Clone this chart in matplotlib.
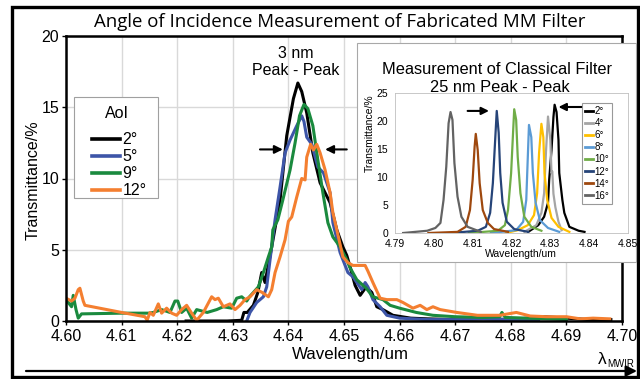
import matplotlib
matplotlib.use("Agg")
import matplotlib.pyplot as plt
from matplotlib.patches import Rectangle, FancyArrowPatch

plt.rcParams['font.family'] = ['Liberation Sans', 'DejaVu Sans']

# ---------------- main chart data ----------------
aoi_labels = ['2°', '5°', '9°', '12°']
aoi_colors = ['#000000', '#3d55a8', '#1a8a3e', '#f47f30']

wl_2 = [4.6216, 4.6250, 4.6290, 4.6316, 4.6320, 4.6326, 4.6337, 4.6345, 4.6352, 4.6358,
        4.6370, 4.6385, 4.6397, 4.6409, 4.6417, 4.6424, 4.6433, 4.6444, 4.6457, 4.6475,
        4.6487, 4.6498, 4.6505, 4.6511, 4.6520, 4.6529, 4.6540, 4.6550, 4.6559, 4.6570,
        4.6588, 4.6620, 4.6650, 4.6700, 4.6750, 4.6800, 4.6830, 4.6860, 4.6900, 4.6940, 4.6980]
tr_2 = [0.0, 0.0, 0.0, 0.05, 0.6, 0.6, 1.1, 2.0, 3.4, 2.7,
        5.2, 8.5, 13.0, 15.6, 16.7, 16.1, 14.6, 11.8, 9.7, 8.3,
        6.4, 5.2, 4.6, 3.8, 2.5, 1.8, 2.4, 2.0, 1.0, 0.8,
        0.4, 0.2, 0.15, 0.1, 0.15, 0.1, 0.2, 0.3, 0.2, 0.1, 0.1]

wl_5 = [4.6325, 4.6331, 4.6343, 4.6355, 4.6361, 4.6367, 4.6376, 4.6385, 4.6394, 4.6403,
        4.6415, 4.6424, 4.6428, 4.6433, 4.6442, 4.6453, 4.6463, 4.6475, 4.6480, 4.6493,
        4.6507, 4.6516, 4.6532, 4.6538, 4.6543, 4.6552, 4.6565, 4.6577, 4.6600, 4.6650,
        4.6700, 4.6750, 4.6800, 4.6850]
tr_5 = [0.0, 0.6, 1.3, 1.7, 2.4, 4.3, 7.1, 9.4, 11.8, 12.7,
        13.7, 14.4, 14.0, 12.9, 12.4, 10.8, 10.4, 9.0, 6.9, 4.8,
        3.4, 3.1, 2.2, 2.7, 2.4, 1.5, 1.0, 0.4, 0.2, 0.1,
        0.1, 0.15, 0.1, 0.1]

wl_9 = [4.6000, 4.6010, 4.6013, 4.6018, 4.6022, 4.6028, 4.6100, 4.6150, 4.6157, 4.6172,
        4.6187, 4.6196, 4.6201, 4.6208, 4.6217, 4.6226, 4.6235, 4.6254, 4.6271, 4.6283,
        4.6298, 4.6307, 4.6316, 4.6325, 4.6330, 4.6337, 4.6346, 4.6355, 4.6364, 4.6370,
        4.6372, 4.6381, 4.6390, 4.6403, 4.6412, 4.6420, 4.6428, 4.6435, 4.6444, 4.6453,
        4.6462, 4.6471, 4.6480, 4.6493, 4.6505, 4.6510, 4.6523, 4.6540, 4.6552, 4.6570,
        4.6583, 4.6600, 4.6630, 4.6660, 4.6700, 4.6750, 4.6780, 4.6784, 4.6790, 4.6830,
        4.6870, 4.6900]
tr_9 = [1.5, 1.0, 1.8, 0.8, 0.2, 0.5, 0.55, 0.55, 0.6, 0.8,
        0.6, 1.4, 1.4, 0.6, 0.9, 0.2, 0.8, 0.6, 0.8, 1.0,
        0.9, 1.6, 1.7, 1.4, 1.7, 2.0, 2.4, 3.4, 4.5, 5.2,
        6.4, 7.1, 8.5, 10.6, 12.5, 14.4, 15.2, 14.9, 13.7, 11.3,
        9.0, 6.9, 5.9, 5.2, 4.3, 3.8, 2.9, 2.3, 1.7, 1.5,
        1.1, 0.9, 0.6, 0.4, 0.3, 0.25, 0.3, 0.6, 0.25, 0.2,
        0.15, 0.1]

wl_12 = [4.6000, 4.6010, 4.6016, 4.6022, 4.6025, 4.6031, 4.6034, 4.6100, 4.6142, 4.6146,
         4.6151, 4.6157, 4.6166, 4.6172, 4.6181, 4.6190, 4.6199, 4.6208, 4.6217, 4.6226,
         4.6235, 4.6247, 4.6262, 4.6268, 4.6274, 4.6283, 4.6295, 4.6304, 4.6313, 4.6322,
         4.6331, 4.6343, 4.6353, 4.6364, 4.6370, 4.6376, 4.6385, 4.6394, 4.6400, 4.6406,
         4.6415, 4.6424, 4.6430, 4.6433, 4.6440, 4.6445, 4.6451, 4.6457, 4.6466, 4.6475,
         4.6480, 4.6490, 4.6498, 4.6507, 4.6516, 4.6529, 4.6538, 4.6543, 4.6552, 4.6565,
         4.6577, 4.6595, 4.6606, 4.6624, 4.6637, 4.6649, 4.6660, 4.6673, 4.6703, 4.6740,
         4.6780, 4.6810, 4.6835, 4.6865, 4.6900, 4.6925, 4.6948, 4.6978]
tr_12 = [1.6, 1.4, 1.6, 2.2, 2.3, 1.4, 1.1, 0.6, 0.3, 0.05,
         0.6, 0.4, 1.2, 0.55, 0.9, 0.55, 0.4, 0.8, 1.1, 0.55,
         0.05, 0.6, 1.7, 1.5, 1.6, 1.0, 1.2, 0.8, 1.1, 1.5,
         1.7, 2.2, 2.0, 1.7, 2.2, 3.4, 4.5, 5.7, 7.0, 7.3,
         8.7, 10.0, 9.9, 11.5, 12.4, 12.0, 12.4, 11.8, 10.6, 9.0,
         7.6, 5.9, 4.5, 4.1, 3.9, 3.9, 3.9, 3.5, 2.7, 1.6,
         1.5, 1.5, 1.3, 0.9, 1.1, 0.8, 1.0, 0.8, 0.6, 0.4,
         0.4, 0.6, 0.35, 0.3, 0.3, 0.15, 0.2, 0.15]

main_x = [wl_2, wl_5, wl_9, wl_12]
main_y = [tr_2, tr_5, tr_9, tr_12]
main_xticks = [4.60, 4.61, 4.62, 4.63, 4.64, 4.65, 4.66, 4.67, 4.68, 4.69, 4.70]
main_yticks = [0, 5, 10, 15, 20]

# ---------------- inset data ----------------
cls_labels = ['2°', '4°', '6°', '8°', '10°', '12°', '14°', '16°']
cls_colors = ['#000000', '#a5a5a5', '#ffc000', '#5b9bd5', '#70ad47', '#264478', '#9e480e', '#636363']

c2_x = [4.8243, 4.8269, 4.8284, 4.8294, 4.8297, 4.8303, 4.8308, 4.8311, 4.8316, 4.8321,
        4.8323, 4.8331, 4.8336, 4.8349, 4.8373, 4.8388]
c2_y = [0.2, 1.4, 2.9, 5.4, 9.5, 14.8, 20.7, 22.9, 21.6, 16.6, 10.7, 5.9, 3.6, 1.1, 0.4, 0.2]
c4_x = [4.8233, 4.8264, 4.8277, 4.8284, 4.8289, 4.8294, 4.8300, 4.8303, 4.8305, 4.8308,
        4.8313, 4.8321, 4.8329]
c4_y = [0.2, 1.4, 3.6, 7.1, 14.8, 20.8, 16.6, 10.7, 11.0, 7.0, 4.6, 2.0, 0.5]
c6_x = [4.8186, 4.8216, 4.8242, 4.8258, 4.8266, 4.8271, 4.8277, 4.8282, 4.8285, 4.8292,
        4.8303, 4.8321, 4.8349]
c6_y = [0.0, 0.5, 1.4, 3.2, 7.1, 14.3, 19.5, 17.1, 10.7, 5.9, 2.7, 1.1, 0.2]
c8_x = [4.8147, 4.8212, 4.8230, 4.8238, 4.8242, 4.8245, 4.8251, 4.8255, 4.8262, 4.8273,
        4.8294, 4.8323]
c8_y = [0.0, 0.5, 2.0, 5.9, 13.6, 19.3, 17.1, 10.7, 5.4, 2.3, 0.9, 0.2]
c10_x = [4.8090, 4.8165, 4.8183, 4.8191, 4.8199, 4.8204, 4.8207, 4.8212, 4.8216, 4.8223,
         4.8233, 4.8251, 4.8277]
c10_y = [0.0, 0.4, 1.4, 4.1, 10.7, 17.9, 22.1, 20.2, 13.6, 7.1, 2.9, 1.1, 0.4]
c12_x = [4.8043, 4.8113, 4.8134, 4.8145, 4.8152, 4.8157, 4.8162, 4.8167, 4.8171, 4.8177,
         4.8188, 4.8207, 4.8243]
c12_y = [0.0, 0.4, 1.1, 3.6, 8.9, 15.4, 21.8, 17.9, 10.7, 5.4, 2.0, 0.7, 0.2]
c14_x = [4.7986, 4.8061, 4.8082, 4.8093, 4.8100, 4.8105, 4.8108, 4.8113, 4.8118, 4.8126,
         4.8139, 4.8155, 4.8191]
c14_y = [0.0, 0.2, 1.1, 4.1, 9.5, 15.4, 17.7, 14.8, 8.9, 4.1, 1.8, 0.7, 0.2]
c16_x = [4.7921, 4.7983, 4.8004, 4.8017, 4.8025, 4.8032, 4.8038, 4.8043, 4.8048, 4.8053,
         4.8061, 4.8071, 4.8087, 4.8121]
c16_y = [0.0, 0.4, 0.9, 1.8, 5.9, 11.8, 19.6, 21.6, 20.2, 12.5, 6.5, 2.9, 1.1, 0.2]

cls_x = [c2_x, c4_x, c6_x, c8_x, c10_x, c12_x, c14_x, c16_x]
cls_y = [c2_y, c4_y, c6_y, c8_y, c10_y, c12_y, c14_y, c16_y]
ins_xticks = [4.79, 4.80, 4.81, 4.82, 4.83, 4.84, 4.85]
ins_yticks = [0, 5, 10, 15, 20, 25]

# ---------------- figure ----------------
W, H = 640, 379
fig = plt.figure(figsize=(6.4, 3.79), dpi=100)

def fx(px):
    return px / W

def fy(py):
    return 1 - py / H

ax = fig.add_axes([fx(66), fy(321), fx(622) - fx(66), fy(36) - fy(321)])
for xs, ys, c, lab in zip(main_x, main_y, aoi_colors, aoi_labels):
    ax.plot(xs, ys, color=c, lw=2.2, label=lab, solid_joinstyle='round')
ax.set_xlim(4.60, 4.70)
ax.set_ylim(0, 20)
ax.set_xticks(main_xticks)
ax.set_xticklabels([f'{v:.2f}' for v in main_xticks])
ax.set_yticks(main_yticks)
ax.grid(True, color='#d9d9d9', lw=1.0)
ax.set_axisbelow(True)
for s in ax.spines.values():
    s.set_linewidth(1.8)
    s.set_color('black')
ax.tick_params(labelsize=11.5, length=3, width=1, pad=2)
ax.tick_params(axis='x', pad=3)

# legend frame + title drawn separately, entries through the legend
ax.add_patch(Rectangle((fx(74), fy(198)), fx(158) - fx(74), fy(97) - fy(198),
                       transform=fig.transFigure, fill=True, fc='white',
                       ec='#a0a0a0', lw=0.8, zorder=4))
fig.text(fx(117), fy(113), 'AoI', ha='center', va='center', fontsize=11.5, zorder=8)
leg = ax.legend(loc='upper left', bbox_to_anchor=(fx(86), fy(126)),
                bbox_transform=fig.transFigure,
                fontsize=11.5, frameon=False, handlelength=1.75, handletextpad=0.15,
                labelspacing=0.12, borderpad=0.4, borderaxespad=0)
leg.set_zorder(8)
for ln in leg.get_lines():
    ln.set_linewidth(2.6)

ax.text(4.6414, 18.75, '3 nm', ha='center', va='center', fontsize=11.5)
ax.text(4.6414, 17.55, 'Peak - Peak', ha='center', va='center', fontsize=11.5)
ax.annotate('', xy=(4.6390, 12.04), xytext=(4.63489, 12.04),
            arrowprops=dict(arrowstyle='-|>', color='black', lw=1.5,
                            mutation_scale=12, shrinkA=0, shrinkB=0))
ax.annotate('', xy=(4.6466, 12.04), xytext=(4.6505, 12.04),
            arrowprops=dict(arrowstyle='-|>', color='black', lw=1.5,
                            mutation_scale=12, shrinkA=0, shrinkB=0))

# texts outside
fig.text(fx(340), fy(22), 'Angle of Incidence Measurement of Fabricated MM Filter',
         ha='center', va='center', fontsize=13.4, family=['Open Sans', 'DejaVu Sans'])
fig.text(fx(33), fy(180), 'Transmittance/%', rotation=90, ha='center', va='center', fontsize=11.5)
fig.text(fx(350), fy(355), 'Wavelength/um', ha='center', va='center', fontsize=12.2)
fig.text(fx(598), fy(359), 'λ', ha='left', va='center', fontsize=12.5)
fig.text(fx(607.5), fy(364), 'MWIR', ha='left', va='center', fontsize=7)

# bottom arrow
fig.patches.append(FancyArrowPatch((fx(26), fy(371)), (fx(637), fy(371)),
                                   transform=fig.transFigure, arrowstyle='-|>',
                                   mutation_scale=16, color='black', lw=1.6,
                                   shrinkA=0, shrinkB=0))
# outer frame
fig.patches.append(Rectangle((fx(12), fy(377)), fx(638) - fx(12), fy(7) - fy(377),
                             transform=fig.transFigure, fill=False, ec='black', lw=2.4))

# inset box
box = Rectangle((fx(357), fy(262)), fx(636) - fx(357), fy(43) - fy(262),
                transform=fig.transFigure, fc='white', ec='#a8a8a8', lw=0.8, zorder=5)
fig.patches.append(box)

iax = fig.add_axes([fx(395), fy(233), fx(628) - fx(395), fy(93) - fy(233)], zorder=6)
for xs, ys, c, lab in zip(cls_x, cls_y, cls_colors, cls_labels):
    iax.plot(xs, ys, color=c, lw=1.6, label=lab)
iax.set_xlim(4.79, 4.85)
iax.set_ylim(0, 25)
iax.set_xticks(ins_xticks)
iax.set_xticklabels([f'{v:.2f}' for v in ins_xticks])
iax.set_yticks(ins_yticks)
for s in iax.spines.values():
    s.set_linewidth(0.6)
    s.set_color('#bfbfbf')
iax.tick_params(labelsize=7.5, length=0)
iax.tick_params(axis='x', pad=4)
iax.tick_params(axis='y', pad=5)
iax.patch.set_facecolor('white')

ileg = iax.legend(loc='upper left', bbox_to_anchor=(fx(582), fy(103)),
                  bbox_transform=fig.transFigure, fontsize=7, frameon=True,
                  fancybox=False, edgecolor='#808080', handlelength=0.8,
                  handletextpad=0.2, labelspacing=0.22, borderpad=0.3, borderaxespad=0)
ileg.get_frame().set_linewidth(0.8)
for ln in ileg.get_lines():
    ln.set_linewidth(2.0)

iax.annotate('', xy=(4.8142, 21.8), xytext=(4.8087, 21.8),
             arrowprops=dict(arrowstyle='-|>', color='black', lw=1.5,
                             mutation_scale=11, shrinkA=0, shrinkB=0))
iax.annotate('', xy=(4.8321, 22.5), xytext=(4.8381, 22.5),
             arrowprops=dict(arrowstyle='-|>', color='black', lw=1.5,
                             mutation_scale=11, shrinkA=0, shrinkB=0), annotation_clip=False)

fig.text(fx(497), fy(69), 'Measurement of Classical Filter', ha='center', va='center',
         fontsize=11.8, zorder=7)
fig.text(fx(500), fy(87), '25 nm Peak - Peak', ha='center', va='center',
         fontsize=11.8, zorder=7)
fig.text(fx(370), fy(133), 'Transmittance/%', rotation=90, ha='center', va='center',
         fontsize=7.5, zorder=7)
fig.text(fx(521), fy(254), 'Wavelength/um', ha='center', va='center', fontsize=7.5, zorder=7)

fig.savefig('out.png', dpi=100)
